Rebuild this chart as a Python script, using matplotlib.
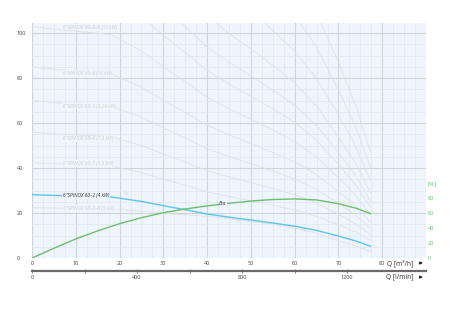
import numpy as np
import matplotlib.pyplot as plt
from matplotlib.ticker import MultipleLocator, FixedLocator

plt.rcParams['font.family'] = ['Open Sans', 'DejaVu Sans']

# flow points [m3/h] shared by all pump curves
q = [0, 6, 18, 25, 30, 35, 40, 45, 50, 55, 60, 65, 70, 74, 77.3]

# highlighted pump curve, head [m]
h_4kw = [28.2, 27.8, 27.2, 25.2, 23.3, 21.5, 19.6, 18.2, 16.9, 15.6, 14.2, 12.3, 9.8, 7.6, 5.3]

# other pumps of the family (light grey), head [m]
h_3kw = [22.4, 22.2, 21.8, 20.9, 20.0, 19.2, 18.6, 17.6, 16.3, 15.0, 13.4, 11.0, 7.8, 5.4, 3.0]
h_5kw = [42.5, 41.9, 41.0, 38.0, 35.1, 32.4, 29.5, 27.4, 25.5, 23.5, 21.4, 18.5, 14.8, 11.5, 8.0]
h_7kw = [56.0, 55.2, 54.0, 50.1, 46.3, 42.7, 38.9, 36.1, 33.6, 31.0, 28.2, 24.4, 19.5, 15.1, 10.5]
h_9kw = [70.0, 69.0, 67.6, 62.6, 57.8, 53.3, 48.7, 45.2, 42.0, 38.7, 35.2, 30.5, 24.4, 18.9, 13.2]
h_11kw = [85.0, 83.8, 82.0, 76.0, 70.2, 64.8, 59.1, 54.8, 51.0, 47.0, 42.8, 37.1, 29.6, 23.0, 16.0]
h_13kw = [103.0, 101.6, 99.4, 92.1, 85.1, 78.5, 71.6, 66.4, 61.8, 57.0, 51.8, 44.9, 35.8, 27.8, 19.4]
h_15kw = [120.0, 118.3, 115.8, 107.3, 99.1, 91.4, 83.4, 77.4, 72.0, 66.4, 60.4, 52.3, 41.8, 32.4, 22.6]
h_18kw = [135.0, 133.1, 130.3, 120.7, 111.5, 102.9, 93.8, 87.1, 81.0, 74.7, 67.9, 58.9, 47.0, 36.5, 25.4]
h_22kw = [155.0, 152.8, 149.6, 138.6, 128.0, 118.1, 107.7, 100.0, 93.0, 85.7, 78.0, 67.6, 53.9, 41.9, 29.1]
h_26kw = [183.0, 180.4, 176.6, 163.6, 151.2, 139.4, 127.2, 118.0, 109.8, 101.2, 92.0, 79.8, 63.7, 49.4, 34.4]
h_30kw = [215.0, 212.0, 207.5, 192.2, 177.6, 163.8, 149.4, 138.7, 129.0, 118.9, 108.1, 93.7, 74.8, 58.1, 40.4]
h_37kw = [250.0, 246.5, 241.3, 223.5, 206.5, 190.5, 173.8, 161.3, 150.0, 138.3, 125.8, 109.0, 87.0, 67.5, 47.0]

grey_curves = [h_3kw, h_5kw, h_7kw, h_9kw, h_11kw, h_13kw,
               h_15kw, h_18kw, h_22kw, h_26kw, h_30kw, h_37kw]

# labels of the grey curves: (text, head at label)
grey_labels = [
    ('6"SPINOX 60\u20132\u20138 (3 kW)', 22.0),
    ('6"SPINOX 60\u20133 (5.5 kW)', 42.0),
    ('6"SPINOX 60\u20134 (7.5 kW)', 53.0),
    ('6"SPINOX 60\u20135 (9.24 kW)', 67.6),
    ('6"SPINOX 60\u20136 (11 kW)', 82.0),
    ('6"SPINOX 60\u20138\u20138 (13 kW)', 102.7),
]
blue_label = '6"SPINOX 60\u20132 (4 kW)'

# efficiency curve [%]
q_eta = [0, 5, 10, 15, 20, 25, 30, 35, 40, 45, 50, 55, 60, 65, 70, 74, 77.3]
eta = [0, 13.0, 25.3, 36.0, 45.5, 53.5, 60.0, 65.0, 69.0, 72.5, 75.5, 77.5, 78.3, 77.0, 72.0, 66.0, 59.0]

bg = '#eef5fc'
grey = '#e1e1e1'
blue = '#5ec4ec'
green = '#6cbf6c'
txt = '#444444'

fig = plt.figure(figsize=(4.5, 3.21), dpi=100)
ax = fig.add_axes([0.0711, 0.196, 0.8756, 0.732])
ax.set_facecolor(bg)
ax.set_xlim(0, 90)
ax.set_ylim(0, 104.5)
for s in ax.spines.values():
    s.set_visible(False)

ax.xaxis.set_major_locator(MultipleLocator(10))
ax.xaxis.set_minor_locator(MultipleLocator(2.5))
ax.yaxis.set_major_locator(MultipleLocator(20))
ax.yaxis.set_minor_locator(MultipleLocator(5))
ax.grid(which='major', color='#cfd4d9', lw=0.8)
ax.grid(which='minor', color='#dde7f0', lw=0.5)
ax.set_axisbelow(True)
ax.set_xticks(range(0, 81, 10))
ax.tick_params(which='both', length=0, labelsize=4, labelcolor=txt)
ax.tick_params(axis='x', pad=1.8)
ax.tick_params(axis='y', pad=10.8)
for lbl in ax.get_yticklabels():
    lbl.set_ha('left')

for h in grey_curves:
    ax.plot(q, h, color=grey, lw=0.6, zorder=2)
ax.plot(q, h_4kw, color=blue, lw=1.0, zorder=3)

lab_box = dict(facecolor=bg, edgecolor='none', pad=0.6)
for name, hy in grey_labels:
    ax.text(7, hy, name, fontsize=3.5, style='italic', color='#cdcdcd',
            va='center', ha='left', bbox=lab_box, zorder=2.5)
ax.text(7, 27.9, blue_label, fontsize=3.5, style='italic', color='#333333',
        va='center', ha='left', bbox=lab_box, zorder=3.5)

# efficiency on its own scale
ax2 = ax.twinx()
ax2.set_ylim(0, 311)
for s in ax2.spines.values():
    s.set_visible(False)
ax2.set_yticks([0, 20, 40, 60, 80])
ax2.tick_params(length=0, labelsize=4, labelcolor=green, pad=1.5)
ax2.plot(q_eta, eta, color=green, lw=1.0, zorder=4)
ax2.text(43.6, 72.8, 'Eta', fontsize=3.8, style='italic', color='#333333',
         va='center', ha='center', bbox=dict(facecolor=bg, edgecolor='none', pad=0.4), zorder=5)
ax2.text(1.003, 98, '[%]', transform=ax2.get_yaxis_transform(), fontsize=4.5,
         color=green, va='center', ha='left')

# flow in l/min on a second axis below
sec = ax.secondary_xaxis(-0.055, functions=(lambda x: x * 1000 / 60, lambda x: x * 60 / 1000))
sec.spines['bottom'].set_color('#6a6a6a')
sec.spines['bottom'].set_linewidth(1.6)
sec.set_xticks([0, 400, 800, 1200])
sec.xaxis.set_minor_locator(FixedLocator([200, 600, 1000]))
sec.tick_params(which='both', direction='inout', length=3, width=0.6, color='#6a6a6a',
                labelsize=4, labelcolor=txt, pad=1.5)

ax.text(0.967, -0.021, 'Q [m\u00b3/h]', transform=ax.transAxes, fontsize=4.8,
        color='#333333', ha='right', va='center')
ax.text(0.967, -0.081, 'Q [l/min]', transform=ax.transAxes, fontsize=4.8,
        color='#333333', ha='right', va='center')
for yy in (-0.021, -0.081):
    ax.annotate('', xy=(0.999, yy), xytext=(0.976, yy), xycoords='axes fraction',
                arrowprops=dict(arrowstyle='-|>', color='#222222', lw=0.7, mutation_scale=4))

fig.savefig('out.png', dpi=100)
